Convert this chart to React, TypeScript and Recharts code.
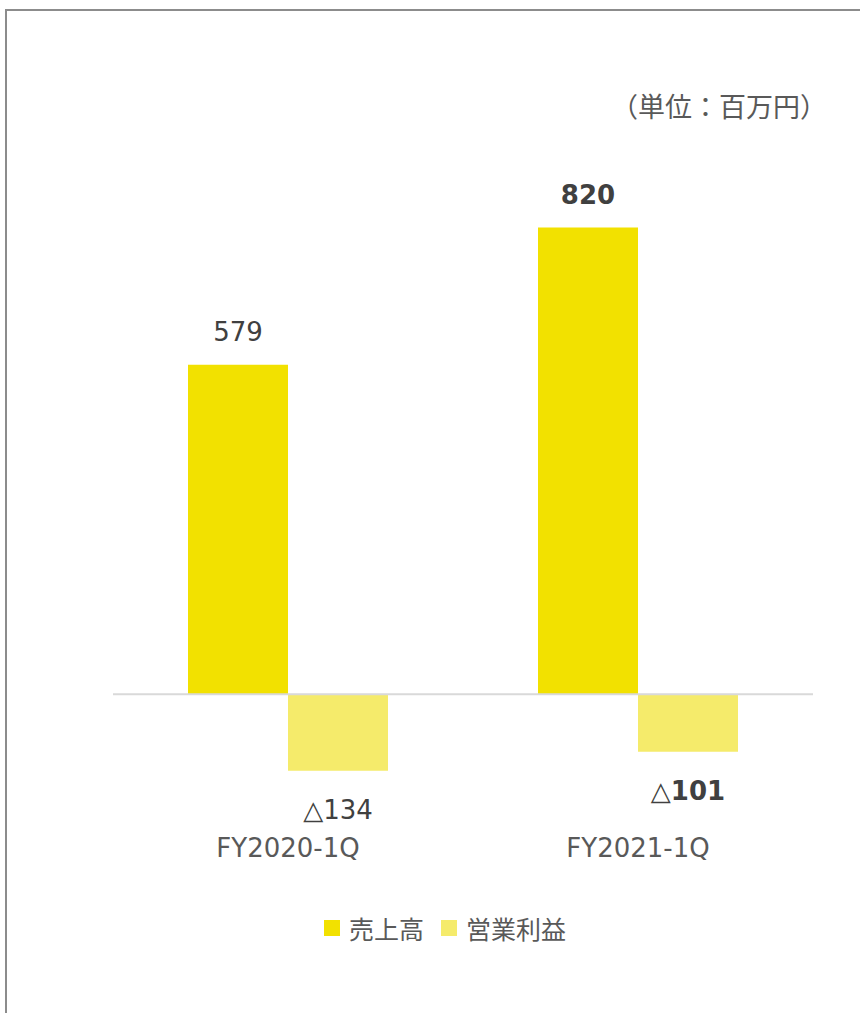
import React from 'react';
import {
  BarChart,
  Bar,
  XAxis,
  YAxis,
  ReferenceLine,
  LabelList,
  Legend,
} from 'recharts';

const categories = ['FY2020-1Q', 'FY2021-1Q'];
const salesValues = [579, 820];
const profitValues = [-134, -101];
const seriesNames = ['売上高', '営業利益'];
const unitLabel = '（単位：百万円）';

const COLORS = {
  sales: '#f2e100',
  profit: '#f5eb6b',
  value: '#404040',
  axis: '#595959',
  zero: '#d9d9d9',
  frame: '#8c8c8c',
};

const FONT = '"DejaVu Sans", "Noto Sans CJK JP", sans-serif';

const chartData = categories.map((name, i) => ({
  name,
  sales: salesValues[i],
  profit: profitValues[i],
}));

const lastIndex = categories.length - 1;

const formatValue = (v: number) => (v < 0 ? `△${Math.abs(v)}` : `${v}`);

const ValueLabel = (props: any) => {
  const { x, y, width, height, value, index } = props;
  const top = Math.min(y, y + height);
  const bottom = Math.max(y, y + height);
  const ty = value < 0 ? bottom + 48 : top - 24;
  return (
    <text
      x={x + width / 2}
      y={ty}
      textAnchor="middle"
      fontSize={26}
      fontFamily={FONT}
      fontWeight={index === lastIndex ? 'bold' : 'normal'}
      fill={COLORS.value}
    >
      {formatValue(value)}
    </text>
  );
};

const LegendContent = () => (
  <div
    style={{
      display: 'flex',
      justifyContent: 'center',
      alignItems: 'center',
      paddingLeft: 30,
      fontFamily: FONT,
      fontSize: 25,
      color: COLORS.axis,
    }}
  >
    {seriesNames.map((n, i) => (
      <div key={n} style={{ display: 'flex', alignItems: 'center', marginRight: i === 0 ? 17 : 0 }}>
        <span
          style={{
            display: 'inline-block',
            width: 16,
            height: 16,
            marginRight: 9,
            background: i === 0 ? COLORS.sales : COLORS.profit,
          }}
        />
        <span>{n}</span>
      </div>
    ))}
  </div>
);

export default function App() {
  return (
    <div
      style={{
        position: 'absolute',
        left: 0,
        top: 0,
        width: 860,
        height: 1013,
        overflow: 'hidden',
        background: '#fff',
      }}
    >
      <div
        style={{
          position: 'absolute',
          left: 5,
          top: 9,
          width: 900,
          height: 1100,
          border: `2px solid ${COLORS.frame}`,
        }}
      />
      <div
        style={{
          position: 'absolute',
          left: 611,
          top: 86,
          fontFamily: FONT,
          fontSize: 27,
          color: COLORS.axis,
          whiteSpace: 'nowrap',
        }}
      >
        {unitLabel}
      </div>
      <div style={{ position: 'absolute', left: 0, top: 0 }}>
        <BarChart
          width={860}
          height={1013}
          data={chartData}
          barGap={0}
          barSize={100}
          margin={{ top: 182, right: 47, left: 113, bottom: 152 }}
        >
          <XAxis
            dataKey="name"
            axisLine={false}
            tickLine={false}
            tick={{ fontSize: 26, fill: COLORS.axis, fontFamily: FONT }}
            height={30}
          />
          <YAxis hide domain={[-240, 900]} />
          <ReferenceLine y={0} stroke={COLORS.zero} strokeWidth={2} />
          <Bar dataKey="sales" name={seriesNames[0]} fill={COLORS.sales} isAnimationActive={false}>
            <LabelList dataKey="sales" content={<ValueLabel />} />
          </Bar>
          <Bar dataKey="profit" name={seriesNames[1]} fill={COLORS.profit} isAnimationActive={false}>
            <LabelList dataKey="profit" content={<ValueLabel />} />
          </Bar>
          <Legend
            verticalAlign="middle"
            align="center"
            content={<LegendContent />}
            wrapperStyle={{ top: 910, left: 0, width: 860 }}
          />
        </BarChart>
      </div>
    </div>
  );
}
